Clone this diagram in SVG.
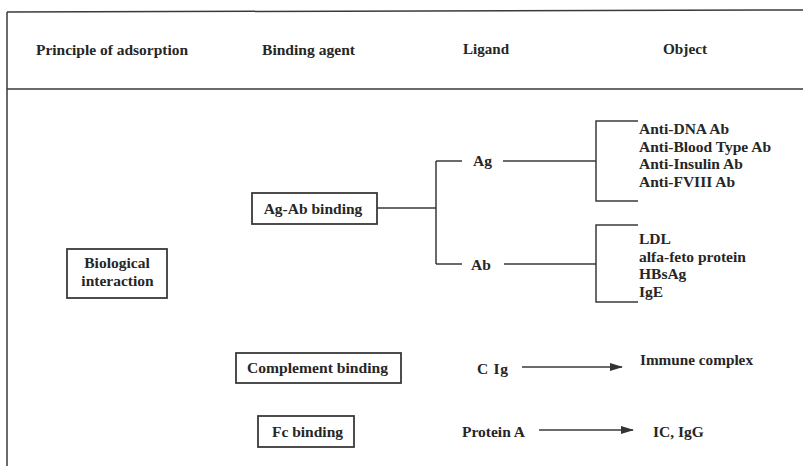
<svg xmlns="http://www.w3.org/2000/svg" width="803" height="466" viewBox="0 0 803 466">
<style>
text{font-family:"Liberation Serif","Times New Roman",serif;font-weight:bold;fill:#262626;font-size:15.5px;}
.box{fill:#fff;stroke:#3a3a3a;stroke-width:1.8;}
.ln{fill:none;stroke:#3a3a3a;stroke-width:1.5;}
</style>
<defs>
<marker id="ah" markerWidth="13" markerHeight="8" refX="12" refY="4" orient="auto" markerUnits="userSpaceOnUse">
<path d="M0,0 L13,4 L0,8 Z" fill="#333"/>
</marker>
</defs>
<rect width="803" height="466" fill="#fff"/>
<g id="frame">
<path class="ln" d="M7,12 L803,10 M7,12 V466 M7,89 H803"/>
</g>
<g id="headers">
<text x="36" y="55" textLength="152" lengthAdjust="spacingAndGlyphs">Principle of adsorption</text>
<text x="262" y="55" textLength="93" lengthAdjust="spacingAndGlyphs">Binding agent</text>
<text x="463" y="54" textLength="46" lengthAdjust="spacingAndGlyphs">Ligand</text>
<text x="663" y="54" textLength="44" lengthAdjust="spacingAndGlyphs">Object</text>
</g>
<g id="connectors">
<path class="ln" d="M377,208 H436 M436,161 V264 M436,161 H462 M436,264 H462"/>
<path class="ln" d="M503,161 H596 M504,264 H596"/>
<path class="ln" d="M638,121 H596 V201 H638"/>
<path class="ln" d="M638,225 H596 V302 H638"/>
<path class="ln" d="M522,367 H622" marker-end="url(#ah)"/>
<path class="ln" d="M539,430 H633" marker-end="url(#ah)"/>
</g>
<g id="biological">
<rect class="box" x="67" y="249" width="100" height="49"/>
<text x="117" y="268" text-anchor="middle">Biological</text>
<text x="117.5" y="286" text-anchor="middle">interaction</text>
</g>
<g id="agab">
<rect class="box" x="252" y="193" width="125" height="31"/>
<text x="313" y="214" text-anchor="middle">Ag-Ab binding</text>
</g>
<g id="ag"><text x="473" y="166">Ag</text></g>
<g id="ab"><text x="471" y="270">Ab</text></g>
<g id="ag-objects">
<text x="639" y="134">Anti-DNA Ab</text>
<text x="639" y="152">Anti-Blood Type Ab</text>
<text x="639" y="169">Anti-Insulin Ab</text>
<text x="639" y="187">Anti-FVIII Ab</text>
</g>
<g id="ab-objects">
<text x="639" y="244">LDL</text>
<text x="639" y="262">alfa-feto protein</text>
<text x="639" y="279">HBsAg</text>
<text x="639" y="297">IgE</text>
</g>
<g id="complement">
<rect class="box" x="236" y="353" width="165" height="30"/>
<text x="317.5" y="373" text-anchor="middle" textLength="141" lengthAdjust="spacingAndGlyphs">Complement binding</text>
</g>
<g id="cig"><text x="477" y="374" textLength="31" lengthAdjust="spacing">C Ig</text></g>
<g id="immune"><text x="640" y="365" textLength="113" lengthAdjust="spacingAndGlyphs">Immune complex</text></g>
<g id="fc">
<rect class="box" x="258" y="416" width="96" height="31"/>
<text x="307.5" y="437" text-anchor="middle">Fc binding</text>
</g>
<g id="proteina"><text x="462" y="437">Protein A</text></g>
<g id="icigg"><text x="653" y="437">IC, IgG</text></g>
</svg>
